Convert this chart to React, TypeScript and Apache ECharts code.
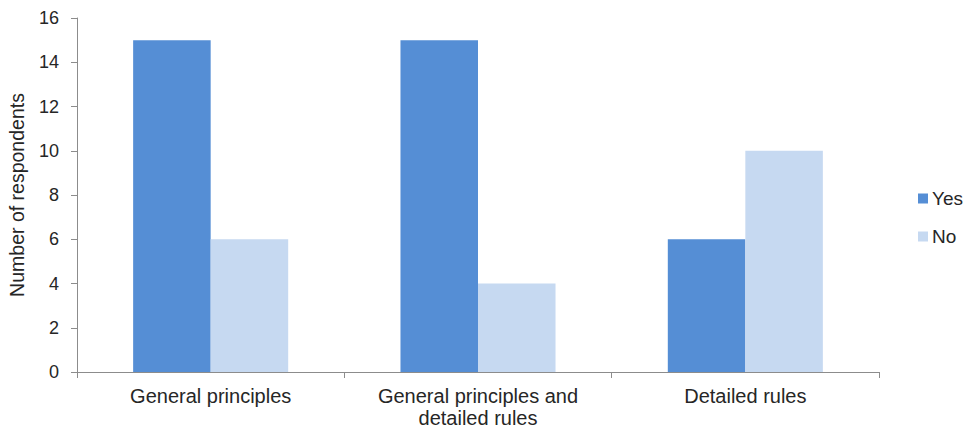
import React, { useEffect, useRef } from "react";
import * as echarts from "echarts";

const categories = ["General principles", "General principles and detailed rules", "Detailed rules"];
const yesValues = [15, 15, 6];
const noValues = [6, 4, 10];
const seriesNames = ["Yes", "No"];

export default function App() {
  const ref = useRef<HTMLDivElement>(null);
  useEffect(() => {
    const chart = echarts.init(ref.current!, null, { renderer: "svg" });
    const font = "Liberation Sans, Arial, sans-serif";
    chart.setOption({
      animation: false,
      backgroundColor: "#ffffff",
      grid: { left: 77, right: 90, top: 18, bottom: 59, containLabel: false, outerBoundsMode: "none" },
      legend: {
        orient: "vertical",
        left: 918,
        top: 189,
        padding: 0,
        itemWidth: 10,
        itemHeight: 10,
        itemGap: 19,
        icon: "rect",
        textStyle: { fontFamily: font, fontSize: 19, color: "#262626", padding: [0, 0, 0, -1] },
        data: seriesNames,
      },
      xAxis: {
        type: "category",
        data: categories,
        axisLine: { lineStyle: { color: "#8c8c8c", width: 1 } },
        axisTick: { show: true, length: 6, lineStyle: { color: "#8c8c8c" } },
        axisLabel: {
          fontFamily: font,
          fontSize: 20,
          color: "#262626",
          margin: 13,
          lineHeight: 22,
          interval: 0,
          formatter: (v: string) => v.replace(" and ", " and\n"),
        },
      },
      yAxis: {
        type: "value",
        min: 0,
        max: 16,
        interval: 2,
        name: "Number of respondents",
        nameLocation: "middle",
        nameGap: 50,
        nameTextStyle: { fontFamily: font, fontSize: 19.5, color: "#262626" },
        axisLine: { show: true, lineStyle: { color: "#8c8c8c", width: 1 } },
        axisTick: { show: true, length: 6, lineStyle: { color: "#8c8c8c" } },
        splitLine: { show: false },
        axisLabel: { fontFamily: font, fontSize: 18, color: "#262626", margin: 18 },
      },
      series: [
        {
          name: seriesNames[0],
          type: "bar",
          data: yesValues,
          itemStyle: { color: "#558ED5" },
          barGap: "0%",
          barCategoryGap: "42%",
        },
        {
          name: seriesNames[1],
          type: "bar",
          data: noValues,
          itemStyle: { color: "#C6D9F1" },
          barGap: "0%",
          barCategoryGap: "42%",
        },
      ],
    });
    return () => chart.dispose();
  }, []);
  return <div ref={ref} style={{ width: 969, height: 431, position: "absolute", left: 0, top: 0 }} />;
}
